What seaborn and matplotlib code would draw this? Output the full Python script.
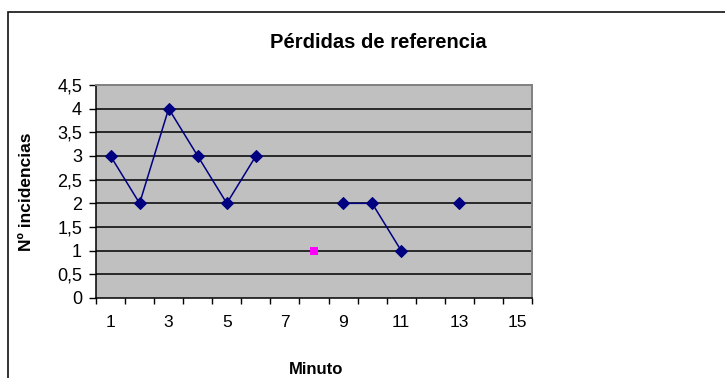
import numpy as np
import pandas as pd
import matplotlib
matplotlib.use("Agg")
import matplotlib.pyplot as plt
from matplotlib.patches import Rectangle
import seaborn as sns

# Data
minutos = list(range(1, 16))
incidencias = [3, 2, 4, 3, 2, 3, np.nan, np.nan, 2, 2, 1, np.nan, 2, np.nan, np.nan]
minuto_aislado = [8]
incidencia_aislada = [1]
y_ticks = [0, 0.5, 1, 1.5, 2, 2.5, 3, 3.5, 4, 4.5]
x_labels = [1, 3, 5, 7, 9, 11, 13, 15]

sns.set_theme(style="white")
plt.rcParams["font.family"] = ["Liberation Sans", "DejaVu Sans"]
plt.rcParams.update({"text.color": "black", "axes.labelcolor": "black",
                     "xtick.color": "black", "ytick.color": "black"})

df = pd.DataFrame({"minuto": minutos, "incidencias": incidencias})
# break the line where a minute has no value
df["tramo"] = df["incidencias"].isna().cumsum()
df = df.dropna()

fig = plt.figure(figsize=(7.25, 3.78), dpi=100)
ax = fig.add_axes([96 / 725, 1 - 298 / 378, 436 / 725, 213 / 378])
ax.set_facecolor("#C0C0C0")

for y in y_ticks[1:-1]:
    ax.axhline(y, color="black", lw=1.1, zorder=1)

sns.lineplot(data=df, x="minuto", y="incidencias", units="tramo", estimator=None,
             color="#000080", lw=1.1, marker="D", markersize=6,
             markeredgecolor="#000080", ax=ax, zorder=3)
sns.scatterplot(x=minuto_aislado, y=incidencia_aislada, marker="s", s=40,
                color="#FF00FF", edgecolor="#FF00FF", linewidth=0, ax=ax, zorder=4)

ax.set_xlim(0.5, 15.5)
ax.set_ylim(0, 4.5)
ax.set_yticks(y_ticks)
ax.set_yticklabels([f"{v:g}".replace(".", ",") for v in y_ticks], fontsize=13)
ax.set_xticks(x_labels)
ax.set_xticklabels([str(v) for v in x_labels], fontsize=12.5)
ax.set_xticks(np.arange(0.5, 16, 1), minor=True)
ax.tick_params(axis="x", which="major", length=0, pad=12)
ax.tick_params(axis="x", which="minor", direction="out", length=4, width=1, color="black", bottom=True)
ax.tick_params(axis="y", direction="out", length=5, width=1, color="black", left=True, pad=5)

for side in ["left", "bottom"]:
    ax.spines[side].set_color("black")
    ax.spines[side].set_linewidth(1.1)
for side in ["top", "right"]:
    ax.spines[side].set_color("#808080")
    ax.spines[side].set_linewidth(1.4)

ax.set_xlabel("")
ax.set_ylabel("Nº incidencias", fontsize=12.5, fontweight="bold")
ax.yaxis.set_label_coords(-0.142, 0.5)
fig.text(316 / 725, 1 - 369 / 378, "Minuto", ha="center", va="center",
         fontsize=12, fontweight="bold")
fig.text(378 / 725, 1 - 42 / 378, "Pérdidas de referencia", ha="center", va="center",
         fontsize=14.5, fontweight="bold")

# chart frame
fig.patches.append(Rectangle((8 / 725, -0.1), 1.1, 1 - 12.5 / 378 + 0.1,
                             transform=fig.transFigure, fill=False,
                             edgecolor="#111111", lw=1.2, zorder=0))

fig.savefig("out.png", dpi=100, facecolor="white")
